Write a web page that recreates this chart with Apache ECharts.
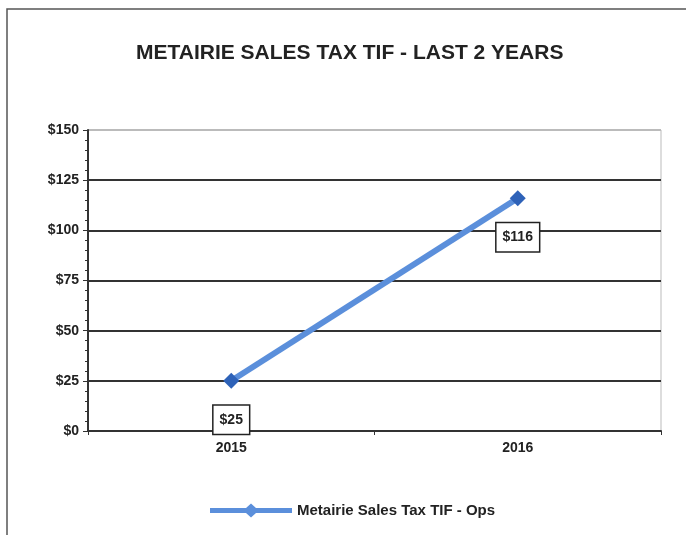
<!DOCTYPE html>
<html><head><meta charset="utf-8">
<script src="https://cdn.jsdelivr.net/npm/echarts@6/dist/echarts.min.js"></script>
<style>html,body{margin:0;padding:0;background:#fff}#c{width:686px;height:535px}</style>
</head><body><div id="c"></div>
<script>
const categories = ['2015', '2016'];
const values = [25, 116];
const seriesName = 'Metairie Sales Tax TIF - Ops';
const chartTitle = 'METAIRIE SALES TAX TIF - LAST 2 YEARS';

const chart = echarts.init(document.getElementById('c'));
chart.setOption({
  backgroundColor: '#fff',
  animation: false,
  graphic: [{
    type: 'polyline',
    shape: { points: [[7, 540], [7, 9], [686, 9]] },
    style: { stroke: '#555', lineWidth: 1.5, fill: null }
  }],
  title: {
    text: chartTitle, left: 131, top: 38,
    textStyle: { fontFamily: 'Liberation Sans', fontWeight: 'bold', fontSize: 21, color: '#222' }
  },
  legend: {
    top: 503, left: 210, padding: 0, itemWidth: 82, itemHeight: 14, itemGap: 4,
    textStyle: { fontFamily: 'Liberation Sans', fontWeight: 'bold', fontSize: 15, color: '#222' },
    data: [{ name: seriesName, icon: 'path://M0,4.5 L36,4.5 L41,0 L46,4.5 L82,4.5 L82,9.5 L46,9.5 L41,14 L36,9.5 L0,9.5 Z',
      itemStyle: { color: '#5B8FDB' } }]
  },
  grid: { left: 88, right: 25, top: 130, bottom: 104, show: true, borderColor: '#bbb', borderWidth: 1 },
  xAxis: {
    type: 'category', data: categories, boundaryGap: true,
    axisLine: { lineStyle: { color: '#333', width: 2 } },
    axisTick: { show: true, alignWithLabel: false, length: 4, lineStyle: { color: '#333' } },
    axisLabel: { fontFamily: 'Liberation Sans', fontWeight: 'bold', fontSize: 14, color: '#222', margin: 10 }
  },
  yAxis: {
    type: 'value', min: 0, max: 150, interval: 25,
    axisLine: { show: true, lineStyle: { color: '#333', width: 2 } },
    axisTick: { show: true, length: 5, lineStyle: { color: '#333' } },
    minorTick: { show: true, splitNumber: 5, length: 3, lineStyle: { color: '#333' } },
    splitLine: { lineStyle: { color: ['#333', '#333', '#333', '#333', '#333', '#333', '#bbb'], width: 2 } },
    axisLabel: { fontFamily: 'Liberation Sans', fontWeight: 'bold', fontSize: 14, color: '#222', margin: 9,
      formatter: v => '$' + v }
  },
  series: [{
    name: seriesName, type: 'line', data: values,
    symbol: 'diamond', symbolSize: 16,
    itemStyle: { color: '#2E62B8' },
    lineStyle: { color: '#5B8FDB', width: 6 },
    label: {
      show: true, position: 'bottom', distance: 17,
      formatter: p => '$' + p.value,
      fontFamily: 'Liberation Sans', fontWeight: 'bold', fontSize: 14, color: '#222',
      backgroundColor: '#fff', borderColor: '#222', borderWidth: 1.5, padding: [7, 6, 7, 6]
    }
  }]
});
</script></body></html>
